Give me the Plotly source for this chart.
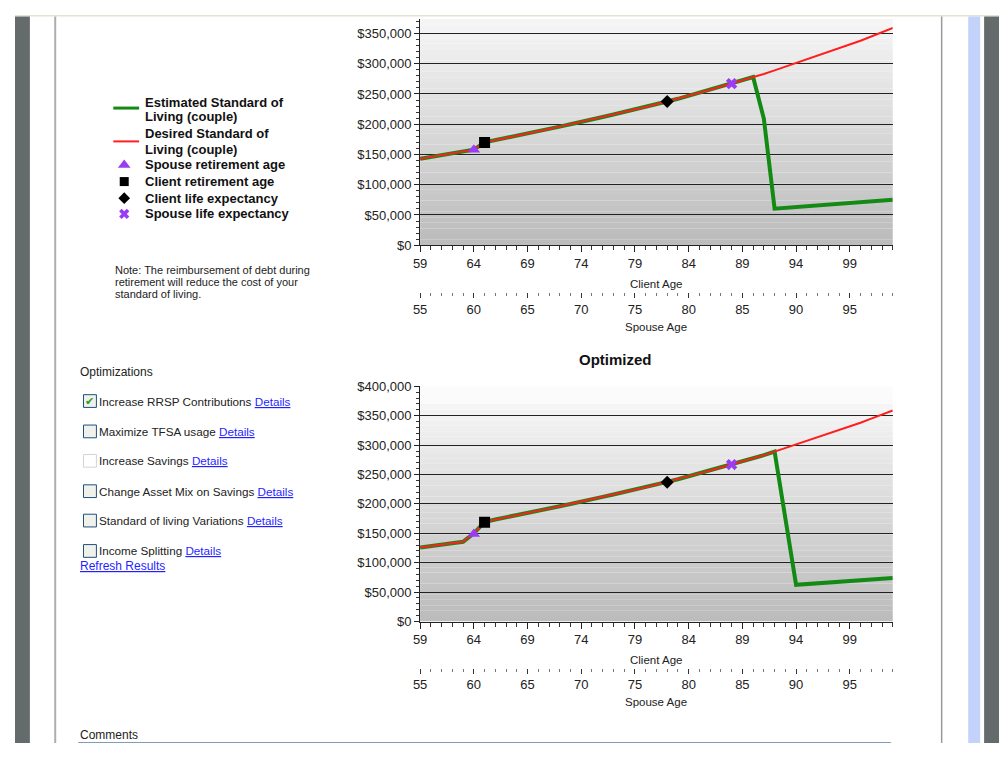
import plotly.graph_objects as go

# ---------------- data (values in $ thousands) ----------------
client_ages = list(range(59, 104))
desired_current = [143, 146, 149, 152, 155, 158, 170, 173.5, 177, 181, 184.5, 188, 192, 196, 200,
                   203.5, 207.5, 212, 216, 220, 224, 228.5, 233, 237.5, 242, 247, 252, 257, 262,
                   267, 272, 278, 283, 289, 295, 301, 307, 313, 319, 325, 332, 338, 345, 352, 359]
est_current_ages = list(range(59, 93)) + [103]
est_current = desired_current[:32] + [209, 60.5, 75]

desired_opt = [126, 128.5, 131, 133, 135.5, 150, 169] + desired_current[7:]
est_opt_ages = list(range(59, 93)) + [94, 103]
est_opt = desired_opt[:34] + [62.5, 74]

# event markers: client age, value
spouse_ret_age, client_ret_age, client_life_age, spouse_life_age = 64, 65, 82, 88
events_current = [158, 170, 237.5, 267]
events_opt = [149, 169, 237, 267]

spouse_offset = 4  # spouse age = client age - 4
client_range = [59, 103]
spouse_ticks = [55, 60, 65, 70, 75, 80, 85, 90, 95]

legend_lines = [["Estimated Standard of", "Living (couple)"],
                ["Desired Standard of", "Living (couple)"]]
legend_items = ["Spouse retirement age", "Client retirement age",
                "Client life expectancy", "Spouse life expectancy"]
optimizations = ["Increase RRSP Contributions", "Maximize TFSA usage", "Increase Savings",
                 "Change Asset Mix on Savings", "Standard of living Variations", "Income Splitting"]
optimization_checked = [True, False, False, False, False, False]
optimization_disabled = [False, False, True, False, False, False]
note_lines = ["Note: The reimbursement of debt during",
              "retirement will reduce the cost of your",
              "standard of living."]

# ---------------- styling ----------------
# the page body keeps its 8px margin, so the figure is 16px smaller than the window
OX, OY = 8, 8
W, H = 1007 - 2 * OX, 759 - 2 * OY
F = "Arial, Liberation Sans, sans-serif"
GREEN = "#138a13"
RED = "#ff1f1f"
PURPLE = "#9b3cf5"


def PX(x):
    return (x - OX) / W


def PY(y):
    return 1 - (y - OY) / H


fig = go.Figure()

k = 1000.0
# ----- top chart -----
fig.add_trace(go.Scatter(x=est_current_ages, y=[v * k for v in est_current], mode="lines",
                         line=dict(color=GREEN, width=4), xaxis="x", yaxis="y", hoverinfo="skip"))
fig.add_trace(go.Scatter(x=client_ages, y=[v * k for v in desired_current], mode="lines",
                         line=dict(color=RED, width=2), xaxis="x", yaxis="y", hoverinfo="skip"))
# ----- bottom chart -----
fig.add_trace(go.Scatter(x=est_opt_ages, y=[v * k for v in est_opt], mode="lines",
                         line=dict(color=GREEN, width=4), xaxis="x3", yaxis="y3", hoverinfo="skip"))
fig.add_trace(go.Scatter(x=client_ages, y=[v * k for v in desired_opt], mode="lines",
                         line=dict(color=RED, width=2), xaxis="x3", yaxis="y3", hoverinfo="skip"))

ev_x = [spouse_ret_age, client_ret_age, client_life_age, spouse_life_age]
ev_sym = ["triangle-up", "square", "diamond", "x"]
ev_col = [PURPLE, "black", "black", PURPLE]
ev_size = [11, 11, 10, 10]
for xa, ya, vals in [("x", "y", events_current), ("x3", "y3", events_opt)]:
    for i in range(4):
        fig.add_trace(go.Scatter(x=[ev_x[i]], y=[vals[i] * k], mode="markers",
                                 marker=dict(symbol=ev_sym[i], color=ev_col[i], size=ev_size[i],
                                             line=dict(width=0)),
                                 xaxis=xa, yaxis=ya, hoverinfo="skip"))

# dummy traces so the spouse-age axes are drawn
fig.add_trace(go.Scatter(x=spouse_ticks, y=[0] * len(spouse_ticks), mode="markers",
                         marker=dict(opacity=0), xaxis="x2", yaxis="y", hoverinfo="skip"))
fig.add_trace(go.Scatter(x=spouse_ticks, y=[0] * len(spouse_ticks), mode="markers",
                         marker=dict(opacity=0), xaxis="x4", yaxis="y3", hoverinfo="skip"))

# legend markers (pixel overlay axis)
leg_y = [161, 178, 195, 211]
for i in range(4):
    fig.add_trace(go.Scatter(x=[118], y=[leg_y[i]], mode="markers",
                             marker=dict(symbol=ev_sym[i], color=ev_col[i], size=[11, 9, 9, 9][i],
                                         line=dict(width=0)),
                             xaxis="x5", yaxis="y5", hoverinfo="skip"))

xdom = [PX(416), PX(892)]
TICKF = dict(size=13, family=F, color="#222")


def client_axis(domain_anchor):
    return dict(domain=xdom, range=client_range, anchor=domain_anchor, tick0=59, dtick=5,
                ticks="outside", ticklen=6, tickcolor="#222", tickwidth=1,
                minor=dict(dtick=1, ticklen=4, ticks="outside", tickcolor="#333"),
                showline=True, linecolor="#222", linewidth=1, showgrid=False, zeroline=False,
                tickfont=TICKF)


def spouse_axis(over, pos):
    return dict(overlaying=over, anchor="free", position=pos, side="bottom",
                range=[client_range[0] - spouse_offset, client_range[1] - spouse_offset],
                tick0=55, dtick=5, ticks="outside", ticklen=5, tickcolor="#333",
                minor=dict(dtick=1, ticklen=3, ticks="outside", tickcolor="#777"),
                showline=False, showgrid=False, zeroline=False, tickfont=TICKF)


def money_axis(dom, rng, anchor):
    return dict(domain=dom, range=rng, anchor=anchor, dtick=50000, tick0=0, tickprefix="$",
                tickformat=",d", ticks="outside", ticklen=5, tickcolor="#222",
                minor=dict(dtick=10000, ticklen=3, ticks="outside", tickcolor="#333"),
                showline=True, linecolor="#222", linewidth=1, showgrid=True,
                gridcolor="#222", gridwidth=1.3, zeroline=False, tickfont=TICKF)


fig.update_layout(
    width=W, height=H, margin=dict(l=0, r=0, t=0, b=0), autosize=False,
    paper_bgcolor="white", plot_bgcolor="rgba(0,0,0,0)", showlegend=False,
    xaxis=client_axis("y"),
    yaxis=money_axis([PY(243), PY(12)], [0, 374000], "x"),
    xaxis2=spouse_axis("x", PY(291)),
    xaxis3=client_axis("y3"),
    yaxis3=money_axis([PY(627), PY(387)], [0, 400000], "x3"),
    xaxis4=spouse_axis("x3", PY(674)),
    xaxis5=dict(domain=[0, 1], range=[OX, OX + W], anchor="y5", visible=False),
    yaxis5=dict(domain=[0, 1], range=[OY + H, OY], anchor="x5", visible=False),
)

shapes = []
# gradient backgrounds in the plot areas
N = 40
top_c, bot_c = (245, 245, 245), (188, 188, 188)
for yr, ymax in [("y", 374000), ("y3", 370000)]:
    xr = "x domain" if yr == "y" else "x3 domain"
    for i in range(N):
        t = i / (N - 1)
        c = tuple(int(bot_c[j] + (top_c[j] - bot_c[j]) * t) for j in range(3))
        y0 = 370000 * i / N
        y1 = 370000 * (i + 1) / N if i < N - 1 else ymax
        shapes.append(dict(type="rect", xref=xr, yref=yr, x0=0, x1=1, y0=y0, y1=y1,
                           fillcolor="rgb(%d,%d,%d)" % c, line=dict(width=0), layer="below"))
    if yr == "y3":
        shapes.append(dict(type="rect", xref=xr, yref=yr, x0=0, x1=1, y0=370000, y1=400000,
                           fillcolor="#fbfbfb", line=dict(width=0), layer="below"))


def rect(x0, y0, x1, y1, fill, line=None, lw=0, layer="above"):
    shapes.append(dict(type="rect", xref="x5", yref="y5", x0=x0, x1=x1, y0=y0, y1=y1,
                       fillcolor=fill, line=dict(color=line or fill, width=lw), layer=layer))


def hline(x0, x1, y, color, width):
    shapes.append(dict(type="line", xref="x5", yref="y5", x0=x0, x1=x1, y0=y, y1=y,
                       line=dict(color=color, width=width)))


# page frame
rect(8, 8, 999, 9.5, "#e6e1cf")
rect(8, 9.5, 23, H + OY, "#656b6b")
rect(47.5, 9.5, 49.5, H + OY, "#adadad")
rect(940.5, 9.5, 942, H + OY, "#9a9a9a")
rect(968, 9.5, 980, H + OY, "#c3d2fb")
rect(984, 9.5, 999, H + OY, "#656b6b")

# legend lines
hline(107, 133, 103, GREEN, 3)
hline(107, 133, 137, RED, 2)

# checkboxes
opt_y = [402, 433, 463, 494, 524, 555]
for i, name in enumerate(optimizations):
    yc = opt_y[i]
    if optimization_disabled[i]:
        rect(77, yc - 6.5, 90, yc + 6.5, "white", "#d4d4d4", 1)
    else:
        rect(77, yc - 6.5, 90, yc + 6.5, "#f1f1ec", "#1c5180", 1)

# comments box
rect(72, 750.5, 890, 770, "white", "#7f9db9", 1)

fig.update_layout(shapes=shapes)

ann = []


def text(x, y, s, size=12, color="#111", xanchor="left", family=F, yanchor="middle"):
    ann.append(dict(x=x, y=y, xref="x5", yref="y5", text=s, showarrow=False, xanchor=xanchor,
                    yanchor=yanchor, font=dict(size=size, color=color, family=family), align="left"))


# legend texts
for (l1, l2), (y1, y2) in zip(legend_lines, [(97, 112), (129, 145)]):
    text(137, y1, "<b>%s</b>" % l1, 13)
    text(137, y2, "<b>%s</b>" % l2, 13)
for i, s in enumerate(legend_items):
    text(137, leg_y[i], "<b>%s</b>" % s, 13)
for s, yy in zip(note_lines, [268, 281, 293]):
    text(107, yy, s, 11, "#222")

# axis titles
for yy, s in [(283, "Client Age"), (326, "Spouse Age"), (666, "Client Age"), (709, "Spouse Age")]:
    text(654, yy, s, 11.5, "#222", "center")
text(613, 360, "<b>Optimized</b>", 15, "#111", "center")

# optimizations panel
text(71, 372, "Optimizations", 12, "#222")
LINK = "#1f1fff"
for i, name in enumerate(optimizations):
    yc = opt_y[i]
    text(91, yc, '%s <span style="color:%s"><u>Details</u></span>' % (name, LINK), 11.7, "#222")
    if optimization_checked[i]:
        text(83.5, yc, "✔", 11, "#22a022", "center", "DejaVu Sans")
text(71, 570, '<span style="color:%s"><u>Refresh Results</u></span>' % LINK, 12, "#222")
text(71, 743, "Comments", 12, "#222")

fig.update_layout(annotations=ann)

fig.write_html("out.html", config={"displayModeBar": False})
